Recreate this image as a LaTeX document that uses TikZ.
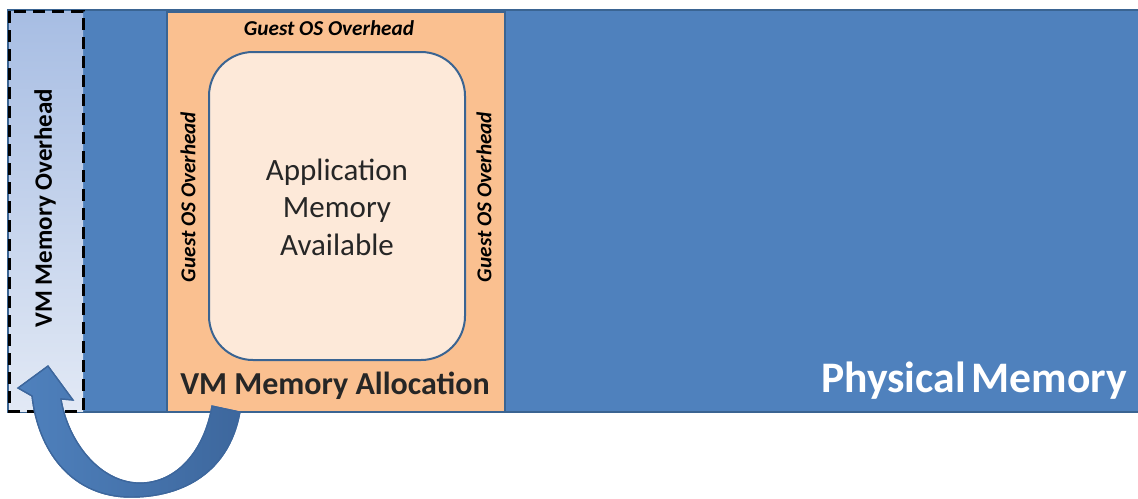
\documentclass[tikz,border=0pt]{standalone}
\usepackage{fontspec}
\setmainfont{Carlito}
\usepackage{xcolor}
\usetikzlibrary{calc}

\definecolor{physblue}{HTML}{4F81BD}
\definecolor{physedge}{HTML}{3A6492}
\definecolor{allocfill}{HTML}{FAC090}
\definecolor{appfill}{HTML}{FDE9D9}
\definecolor{ovtop}{HTML}{A7BDE3}
\definecolor{ovbot}{HTML}{E2E9F5}
\definecolor{arrowdark}{HTML}{3D679D}
\definecolor{textdark}{HTML}{262626}

\tikzset{
  guestlbl/.style={font=\fontsize{10.6}{12}\selectfont\bfseries\itshape, text=black},
}

\begin{document}
\begin{tikzpicture}[x=0.5pt,y=-0.5pt]
\useasboundingbox (0,0) rectangle (1138,498);
% physical memory strip
\draw[fill=physblue,draw=physedge,line width=1pt] (8,10) rectangle (1150,412);
% vm overhead, dashed
\shade[top color=ovtop,bottom color=ovbot] (9,11) rectangle (83,411);
\draw[line width=1.5pt,dash pattern=on 6pt off 3.5pt] (9,11) rectangle (83,411);
% vm allocation
\draw[fill=allocfill,draw=physedge,line width=0.8pt] (167,12) rectangle (505,412);
\draw[fill=appfill,draw=physedge,line width=1pt,rounded corners=22pt] (209,52) rectangle (465,360);

\node[guestlbl] (gtop) at (329,28) {Guest OS Overhead};
\node[guestlbl,rotate=90] (gleft) at (188,197) {Guest OS Overhead};
\node[guestlbl,rotate=90] (gright) at (484,197) {Guest OS Overhead};
\node[align=center,text=textdark,font=\fontsize{15.5}{18.8}\selectfont] (app) at (337,207)
  {Application\\Memory\\Available};
\node[text=textdark,font=\fontsize{16}{18}\selectfont\bfseries] (alloc) at (335,386) {VM Memory Allocation};
\node[text=black,rotate=90,font=\fontsize{12.5}{15}\selectfont\bfseries] (ovh) at (45,208) {VM Memory Overhead};
\node[text=white,font=\fontsize{21.8}{26}\selectfont\bfseries,anchor=east] (phys) at (1134,381) {Physical\kern-2pt{} Memory};

% curved arrow, allocation back to overhead
\shade[left color=physblue,right color=arrowdark,draw=arrowdark,line width=0.6pt]
  (240,412) .. controls (228,478) and (175,499) .. (125,497)
  .. controls (70,494) and (38,450) .. (32,396)
  -- (18,388) -- (48,366) -- (73,400) -- (61,399)
  .. controls (68,442) and (100,483) .. (140,483)
  .. controls (176,483) and (204,452) .. (212,406) -- cycle;
\draw[arrowdark,line width=0.6pt]
  (240,412) .. controls (228,478) and (175,499) .. (125,497)
  .. controls (70,494) and (38,450) .. (32,396)
  -- (18,388) -- (48,366) -- (73,400) -- (61,399)
  .. controls (68,442) and (100,483) .. (140,483)
  .. controls (176,483) and (204,452) .. (212,406) -- cycle;
\end{tikzpicture}
\end{document}
